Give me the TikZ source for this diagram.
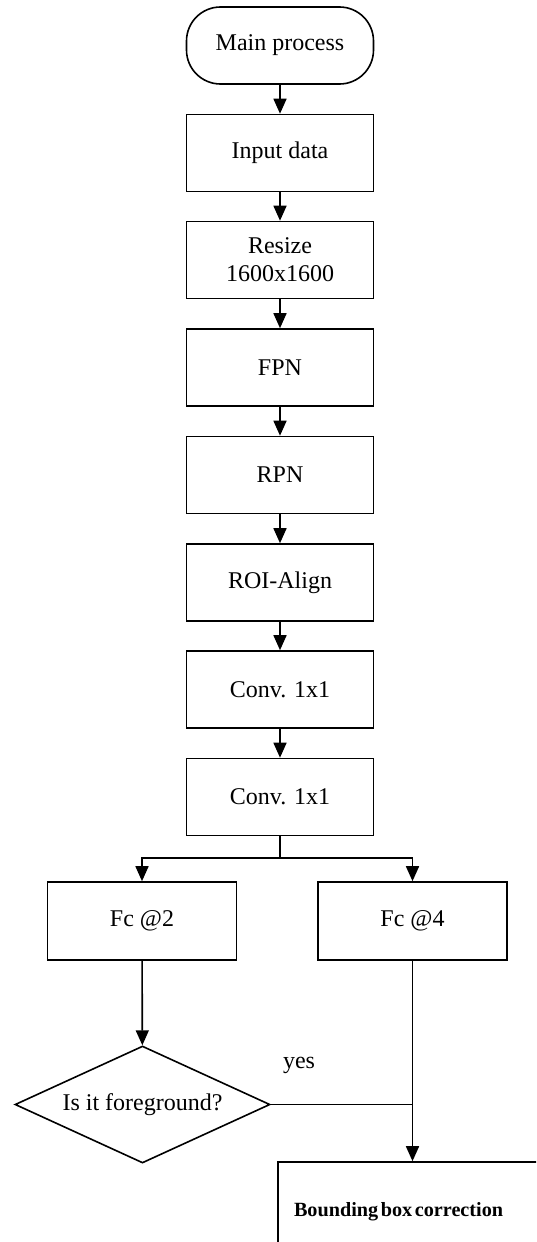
\documentclass[tikz,border=0pt]{standalone}
\usepackage{fontspec}
\setmainfont{Liberation Serif}
\usetikzlibrary{arrows.meta,shapes.geometric}

\begin{document}
\begin{tikzpicture}[x=0.5pt, y=-0.5pt, line width=0.8pt,
    font=\fontsize{12}{14}\selectfont,
    block/.style={draw, minimum width=93.5pt, minimum height=38.5pt, inner sep=0pt},
    arr/.style={-{Triangle[width=6.5pt,length=7.5pt]}}]
    \path [use as bounding box, clip] (0,0) rectangle (536,1242);
    \node [block, rounded corners=17pt] (main) at (280,45.5) {Main process};
    \node [block] (input) at (280,153) {Input data};
    \node [block, align=center] (resize) at (280,260) {Resize\\1600x1600};
    \node [block] (fpn) at (280,367.5) {FPN};
    \node [block] (rpn) at (280,475) {RPN};
    \node [block] (roi) at (280,582.5) {ROI-Align};
    \node [block] (conv1) at (280,689.5) {Conv. 1x1};
    \node [block] (conv2) at (280,797) {Conv. 1x1};
    \node [block, minimum width=94.5pt, minimum height=39pt] (fc2) at (142,921) {Fc @2};
    \node [block, minimum width=94.5pt, minimum height=39pt] (fc4) at (412.5,921) {Fc @4};
    \node [draw, diamond, aspect=2.18, minimum width=127.5pt, minimum height=58.5pt, inner sep=0pt] (fg) at (142.5,1104.5) {Is it foreground?};
    \node (yes) at (299,1065) {yes};
    \node [draw, minimum height=50pt, text width=124pt, inner xsep=8pt, align=left,
      font=\bfseries\fontsize{10.1}{12}\selectfont] (bbox) at (418,1212) {\spaceskip=1.3pt\relax Bounding box correction};
    % main chain
    \draw [arr] (main) -- (input);
    \draw [arr] (input) -- (resize);
    \draw [arr] (resize) -- (fpn);
    \draw [arr] (fpn) -- (rpn);
    \draw [arr] (rpn) -- (roi);
    \draw [arr] (roi) -- (conv1);
    \draw [arr] (conv1) -- (conv2);
    % split into the two heads
    \coordinate (split) at (280,858);
    \draw (conv2) -- (split);
    \draw [arr] (split) -| (fc2);
    \draw [arr] (split) -| (fc4);
    \draw [arr] (fc2) -- (fg);
    \coordinate (join) at (fc4 |- fg);
    \draw (fg.east) -- (join);
    \draw [arr] (fc4.south) -- (fc4.south |- bbox.north);
\end{tikzpicture}
\end{document}
